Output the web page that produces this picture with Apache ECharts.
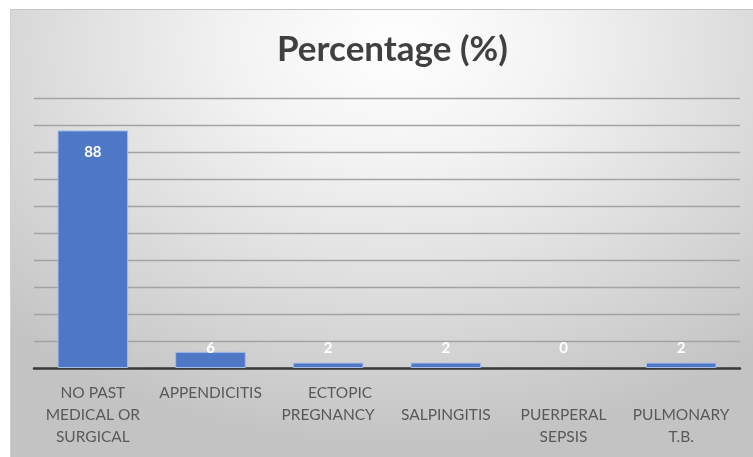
<!DOCTYPE html>
<html><head><meta charset="utf-8">
<script src="https://cdn.jsdelivr.net/npm/echarts@6/dist/echarts.min.js"></script>
<style>
html,body{margin:0;padding:0;background:#fff;}
#wrap{position:relative;width:753px;height:457px;overflow:hidden;background:#fff;}
#bg{position:absolute;left:10px;top:9px;width:743px;height:448px;border-top:1px solid #c6c6c6;border-left:1px solid #d0d0d0;box-sizing:border-box;
background:radial-gradient(ellipse 75% 90% at 52% 8%, #ffffff 0%, #f2f2f2 30%, #dbdbdb 65%, #c3c3c3 100%);}
#main{position:absolute;left:0;top:0;width:753px;height:457px;}
</style></head>
<body><div id="wrap"><div id="bg"></div><div id="main"></div></div>
<script>
const categories = ["NO PAST\nMEDICAL OR\nSURGICAL", "APPENDICITIS", "\u00a0\u00a0\u00a0\u00a0\u00a0\u00a0ECTOPIC\nPREGNANCY", "\nSALPINGITIS", "\nPUERPERAL\nSEPSIS", "\nPULMONARY\nT.B."];
const values = [88, 6, 2, 2, 0, 2];
const yTicks = [0, 10, 20, 30, 40, 50, 60, 70, 80, 90, 100];

const chart = echarts.init(document.getElementById('main'), null, {renderer:'canvas'});
const data = values.map(v => ({
  value: v,
  itemStyle: v === 0 ? {borderWidth: 0, color: 'transparent'} : {},
  label: v > 20
    ? {position: 'insideTop', distance: 14}
    : {position: 'insideBottom', distance: 12}
}));
chart.setOption({
  backgroundColor: 'transparent',
  animation: false,
  title: {
    text: 'Percentage (%)', left: 272, top: 27,
    textStyle: {fontFamily: 'Lato', fontWeight: 'bold', fontSize: 35, color: '#404040'}
  },
  grid: {left: 34, right: 13, top: 98, bottom: 89, containLabel: false},
  xAxis: {
    type: 'category', data: categories,
    axisLine: {lineStyle: {color: '#3a3a3a', width: 2.5}},
    axisTick: {show: false},
    axisLabel: {interval: 0, color: '#595959', fontFamily: 'Lato', fontSize: 15.5, lineHeight: 22, margin: 14}
  },
  yAxis: {
    type: 'value', min: yTicks[0], max: yTicks[yTicks.length-1], interval: 10,
    axisLabel: {show: false}, axisLine: {show: false}, axisTick: {show: false},
    splitLine: {lineStyle: {color: '#a3a3a3', width: 1.3}}
  },
  series: [{
    type: 'bar', data: data, barWidth: '60%',
    itemStyle: {color: '#4e78c6', borderColor: '#a4bde8', borderWidth: 1},
    label: {show: true, color: '#ffffff', fontFamily: 'Lato', fontWeight: 'bold', fontSize: 15}
  }]
});
</script></body></html>
